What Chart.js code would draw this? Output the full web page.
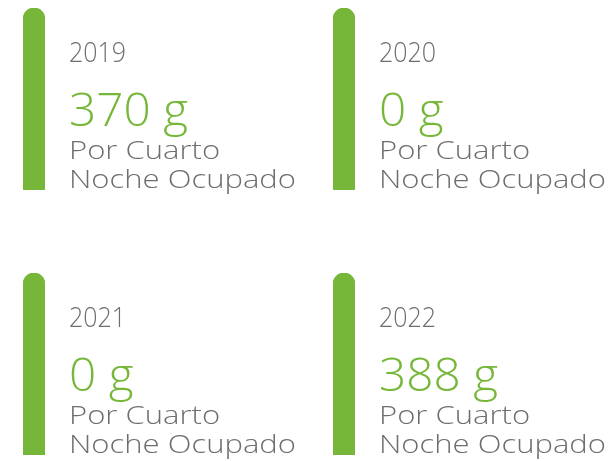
<!DOCTYPE html>
<html>
<head>
<meta charset="utf-8">
<script src="https://cdn.jsdelivr.net/npm/chart.js@4"></script>
<style>
  html, body { margin: 0; padding: 0; background: #fff; }
  #wrap { position: relative; width: 611px; height: 461px; overflow: hidden; }
  .panel { position: absolute; width: 305px; height: 200px; }
</style>
</head>
<body>
<div id="wrap"></div>
<script>
// datos
const years = ['2019', '2020', '2021', '2022'];
const values = [370, 0, 0, 388];
const unit = 'g';
const subtitle = ['Por Cuarto', 'Noche Ocupado'];
// la barra es solo un acento de altura completa
const track = [1, 1, 1, 1];

const GREEN = '#76b739';
const GRAY = '#6e6e6e';
const FONT = '"Open Sans", Lato, sans-serif';

const W = 305, H = 200;

// ancho horizontal: estirar un poco la fuente para parecerse a la original
function stretchFor(ctx, font, sample, target) {
  ctx.font = font;
  return target / ctx.measureText(sample).width;
}

function drawText(ctx, text, x, y, font, sx) {
  ctx.save();
  ctx.font = font;
  ctx.translate(x, y);
  ctx.scale(sx, 1);
  ctx.fillText(text, 0, 0);
  ctx.restore();
}

// textos del panel
const textPlugin = {
  id: 'panelText',
  afterDraw(chart, args, opts) {
    const ctx = chart.ctx;
    const x = 69;
    const fYear = '300 28px ' + FONT;
    const fValue = '300 46px ' + FONT;
    const fSub = '300 26px ' + FONT;
    ctx.save();
    ctx.textAlign = 'left';
    ctx.textBaseline = 'alphabetic';
    const sYear = stretchFor(ctx, fYear, '2019', 57);
    const sValue = stretchFor(ctx, fValue, '370 g', 119);
    const sSub = stretchFor(ctx, fSub, 'Noche Ocupado', 227);
    ctx.fillStyle = GRAY;
    drawText(ctx, opts.year, x, 62, fYear, sYear);
    ctx.fillStyle = GREEN;
    drawText(ctx, opts.value + ' ' + unit, x, 126, fValue, sValue);
    ctx.fillStyle = GRAY;
    drawText(ctx, subtitle[0], x, 159, fSub, sSub);
    drawText(ctx, subtitle[1], x, 188, fSub, sSub);
    ctx.restore();
  }
};

const wrap = document.getElementById('wrap');

years.forEach((year, i) => {
  const div = document.createElement('div');
  div.className = 'panel';
  div.style.left = (i % 2) * 310 + 'px';
  div.style.top = Math.floor(i / 2) * 265 + 'px';
  const canvas = document.createElement('canvas');
  canvas.width = W;
  canvas.height = H;
  div.appendChild(canvas);
  wrap.appendChild(div);

  new Chart(canvas, {
    type: 'bar',
    data: {
      labels: [year],
      datasets: [{
        data: [track[i]],
        backgroundColor: GREEN,
        borderWidth: 0,
        borderSkipped: 'bottom',
        borderRadius: { topLeft: 11, topRight: 11 },
        barThickness: 22
      }]
    },
    options: {
      responsive: false,
      animation: false,
      layout: { padding: { left: 23, right: W - 45, top: 8, bottom: H - 190 } },
      scales: {
        x: { display: false },
        y: { display: false, min: 0, max: 1 }
      },
      plugins: {
        legend: { display: false },
        tooltip: { enabled: false },
        panelText: { year: year, value: values[i] }
      }
    },
    plugins: [textPlugin]
  });
});
</script>
</body>
</html>
